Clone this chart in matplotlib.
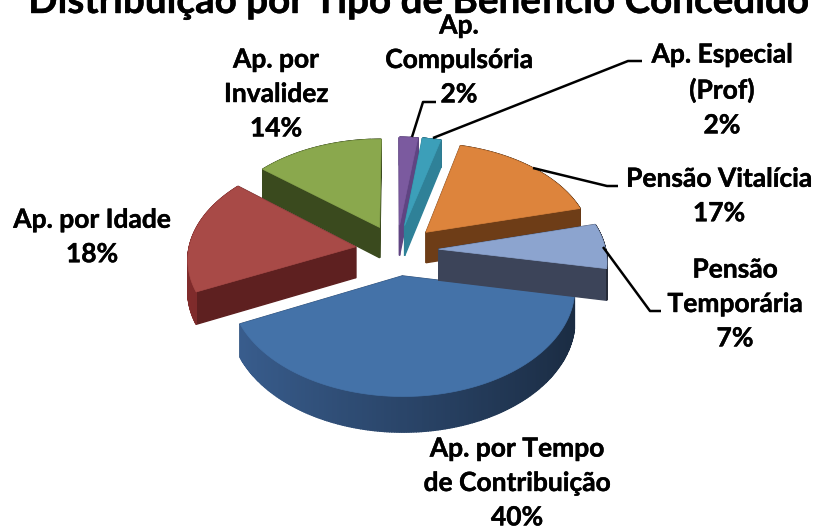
import matplotlib
matplotlib.use("Agg")
import matplotlib.pyplot as plt
import matplotlib.patheffects as pe
import numpy as np
from matplotlib.patches import Polygon

# valores
labels = ["Ap.\nCompulsória\n2%", "Ap. Especial\n(Prof)\n2%", "Pensão Vitalícia\n17%",
          "Pensão\nTemporária\n7%", "Ap. por Tempo\nde Contribuição\n40%",
          "Ap. por Idade\n18%", "Ap. por\nInvalidez\n14%"]
shares = [2, 2, 17, 7, 40, 18, 14]
explode = [0.25] * 7
top_colors = ["#7B5A9F", "#3C9FB9", "#DD843C", "#8CA4CF", "#4472A8", "#A84A47", "#8AA84D"]
side_colors = ["#5F4482", "#2F8198", "#6E3D17", "#3C4459", "#2A4569", "#5E2020", "#3A4A1E"]
draw_order = [6, 0, 1, 2, 5, 4, 3]

plt.rcParams["font.family"] = ["Lato", "DejaVu Sans"]

W, H = 817, 526
fig = plt.figure(figsize=(W / 100, H / 100), dpi=100)

# a pizza calcula os angulos e a explosao, depois projetamos em perspectiva
helper = fig.add_axes([0, 0, 1, 1])
wedges, _ = helper.pie(shares, explode=explode, startangle=90, counterclock=False)
geom = [(w.center, w.r, w.theta1, w.theta2) for w in wedges]
helper.remove()

ax = fig.add_axes([0, 0, 1, 1])
ax.set_xlim(0, W)
ax.set_ylim(H, 0)
ax.axis("off")


def project(x, y, z=0.0):
    w = 1 + 0.105 * y
    return 397 + 167 * x / w, 250 - (102 * y + 31 * z) / w


def shade(color, factor):
    rgb = np.array(matplotlib.colors.to_rgb(color)) * factor
    return np.clip(rgb, 0, 1)


z = 0
for i in draw_order:
    (cx, cy), r, t1, t2 = geom[i]
    ang = np.radians(np.linspace(t1, t2, 200))
    gx = np.r_[cx, cx + r * np.cos(ang)]
    gy = np.r_[cy, cy + r * np.sin(ang)]
    tx, ty = project(gx, gy, 0)
    bx, by = project(gx, gy, -1)
    n = len(gx)
    # faces laterais, de tras para frente
    faces = []
    for k in range(n):
        m = (k + 1) % n
        if k == 0 or m == 0:
            factor = 1.0  # lados retos
        else:
            factor = 1 - 0.38 * np.cos((ang[k - 1] + ang[m - 1]) / 2)  # arco
        faces.append((gy[k] + gy[m], k, m, factor))
    faces.sort(key=lambda f: -f[0])
    for _, k, m, factor in faces:
        c = shade(side_colors[i], factor)
        ax.add_patch(Polygon([(tx[k], ty[k]), (tx[m], ty[m]), (bx[m], by[m]), (bx[k], by[k])],
                             closed=True, facecolor=c, edgecolor=c, linewidth=1.0, zorder=z))
        z += 1
    ax.add_patch(Polygon(np.c_[tx, ty], closed=True, facecolor=top_colors[i],
                         edgecolor=top_colors[i], linewidth=0.5, zorder=z))
    z += 1

# linhas de chamada
leaders = [[(412, 137), (423, 102), (436, 102)],
           [(433, 138), (628, 61), (642, 61)],
           [(533, 168), (607, 186), (618, 186)],
           [(603, 247), (650, 311), (661, 311)]]
for pts in leaders:
    xs, ys = zip(*pts)
    ax.plot(xs, ys, color="black", lw=1.8, zorder=z + 1, solid_capstyle="butt")

stroke = [pe.withStroke(linewidth=0.3, foreground="black")]
label_pos = [(459, 60), (722, 90), (719, 196), (735, 304), (517, 483), (92, 237), (276, 94)]
for text, (x, y) in zip(labels, label_pos):
    ax.text(x, y, text, ha="center", va="center", fontsize=19, fontweight="bold",
            linespacing=1.52, color="black", zorder=z + 2, path_effects=stroke)

ax.text(419, 13, "Distribuição por Tipo de Benefício Concedido", ha="center", va="baseline",
        fontsize=27.8, fontweight="bold", color="black", zorder=z + 2, path_effects=stroke)

fig.savefig("out.png", dpi=100, facecolor="white")
